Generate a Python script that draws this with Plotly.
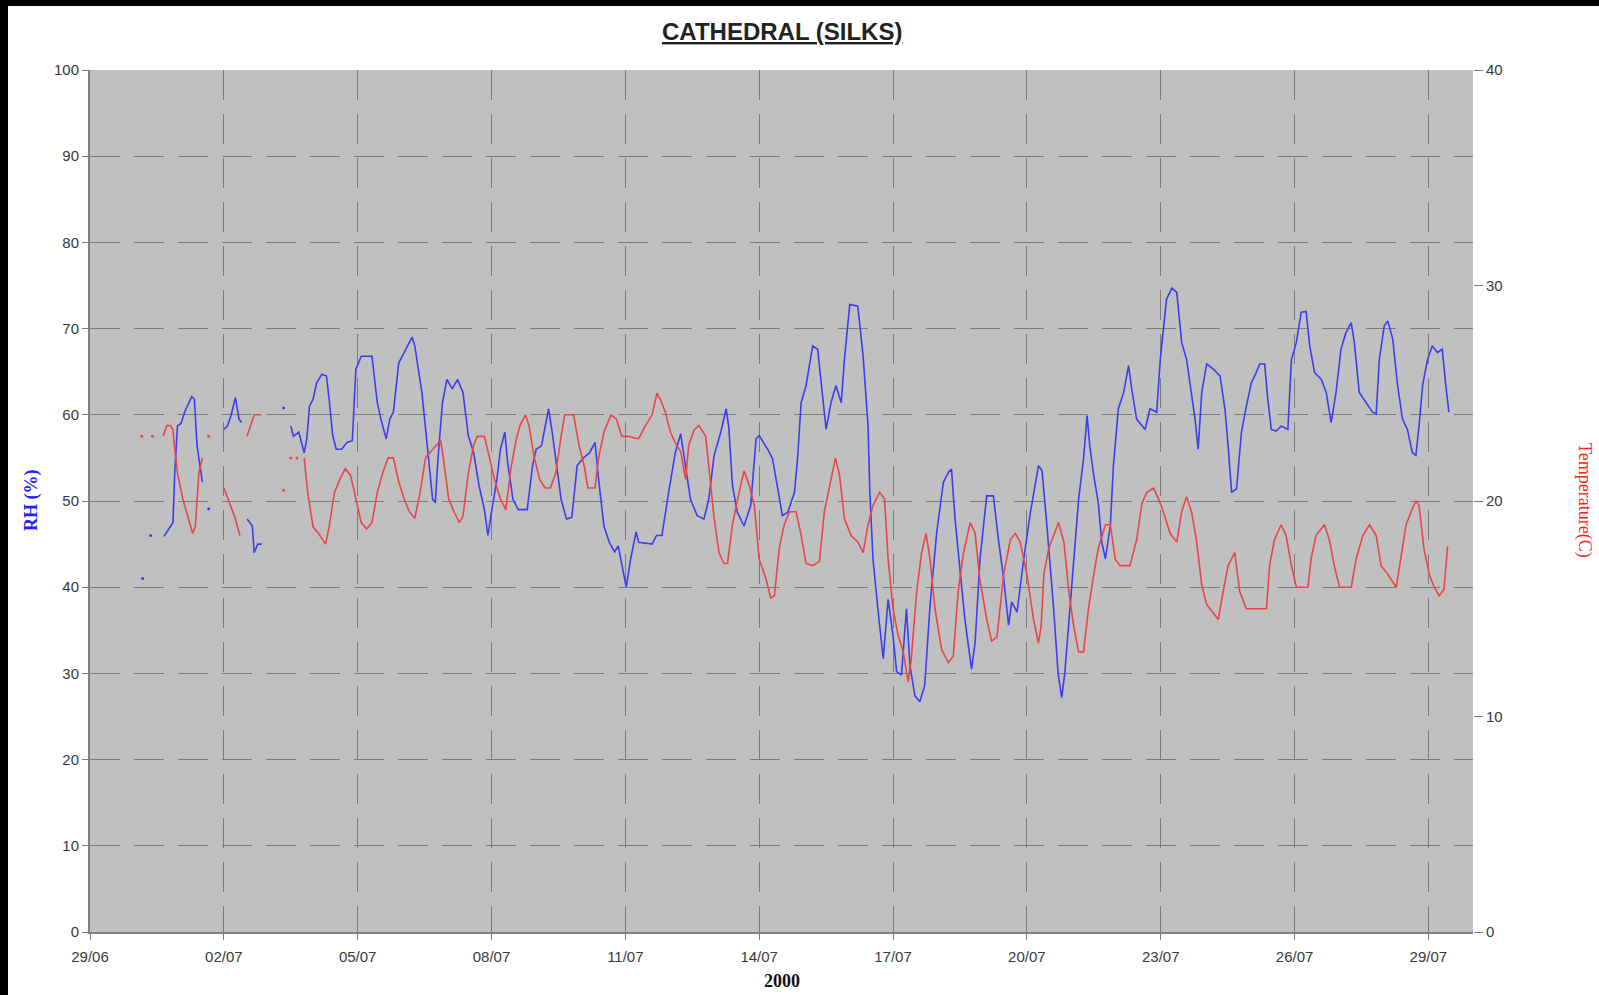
import pandas as pd
import plotly.graph_objects as go

START = "2000-06-29"

# ---- Relative humidity (%) : day offset from 29/06/2000 and value; None = gap
rh_day = [1.66, 1.8, 1.86, 1.9, 1.96, 2.04, 2.12, 2.28, 2.34, 2.4, 2.46, 2.52, None,
          3.0, 3.08, 3.16, 3.26, 3.34, 3.4, None,
          3.52, 3.64, 3.68, 3.76, 3.85, None,
          4.5, 4.56, 4.68, 4.8, 4.86, 4.92, 5.0, 5.08, 5.2, 5.3, 5.36, 5.44, 5.52, 5.64, 5.76, 5.88, 5.96,
          6.08, 6.32, 6.44, 6.52, 6.64, 6.72, 6.8, 6.92, 7.04, 7.22, 7.28, 7.44, 7.56, 7.68, 7.74, 7.8,
          7.9, 8.0, 8.12, 8.24, 8.36, 8.48, 8.6, 8.72, 8.84, 8.92, 9.0, 9.12, 9.2, 9.3, 9.36, 9.48, 9.6,
          9.8, 9.92, 10.0, 10.12, 10.28, 10.36, 10.44, 10.56, 10.68, 10.8, 10.92, 11.04, 11.2, 11.32,
          11.4, 11.52, 11.64, 11.76, 11.84, 11.92, 12.02, 12.12, 12.24, 12.3, 12.6, 12.7, 12.82, 12.97,
          13.12, 13.24, 13.35, 13.46, 13.61, 13.76, 13.87, 13.99, 14.14, 14.26, 14.32, 14.4, 14.51,
          14.66, 14.81, 14.93, 15.0, 15.19, 15.3, 15.37, 15.52, 15.64, 15.79, 15.86, 15.94, 16.05, 16.2,
          16.31, 16.39, 16.5, 16.61, 16.72, 16.84, 16.91, 17.03, 17.21, 17.33, 17.44, 17.48, 17.55,
          17.66, 17.78, 17.89, 18.0, 18.08, 18.19, 18.3, 18.38, 18.49, 18.6, 18.71, 18.83, 18.98, 19.13,
          19.24, 19.31, 19.39, 19.5, 19.61, 19.76, 19.84, 19.95, 20.1, 20.25, 20.36, 20.48, 20.59, 20.66,
          20.78, 20.93, 21.08, 21.26, 21.34, 21.45, 21.6, 21.7, 21.78, 21.85, 21.94, 22.05, 22.16, 22.27,
          22.35, 22.41, 22.5, 22.6, 22.68, 22.76, 22.87, 22.94, 23.05, 23.17, 23.28, 23.35, 23.46, 23.65,
          23.76, 23.91, 23.99, 24.13, 24.25, 24.36, 24.47, 24.58, 24.69, 24.77, 24.84, 24.92, 25.03,
          25.18, 25.33, 25.44, 25.51, 25.59, 25.7, 25.81, 25.92, 26.03, 26.14, 26.22, 26.33, 26.4, 26.48,
          26.59, 26.7, 26.85, 26.93, 27.04, 27.15, 27.26, 27.34, 27.45, 27.6, 27.71, 27.82, 27.93, 28.04,
          28.15, 28.27, 28.34, 28.45, 28.6, 28.75, 28.83, 28.9, 29.01, 29.09, 29.2, 29.31, 29.42, 29.53,
          29.64, 29.72, 29.79, 29.87, 29.98, 30.09, 30.2, 30.31, 30.39, 30.46]
rh_val = [45.9, 47.1, 47.5, 53.3, 58.7, 59, 60.3, 62.1, 61.8, 56.4, 54, 52.2, None,
          58.3, 58.7, 59.9, 62, 59.5, 59.1, None,
          47.9, 47.1, 44, 45, 45, None,
          58.7, 57.5, 58, 55.6, 57.2, 61, 61.8, 63.7, 64.7, 64.5, 61.8, 57.6, 56, 56, 56.8, 57, 65.3,
          66.8, 66.8, 61.4, 59.5, 57.2, 59.5, 60.3, 66, 67.2, 69, 68, 62.6, 56.4, 50.2, 49.8, 54.9,
          61.4, 64.1, 63, 64.1, 62.6, 57.6, 55.6, 51.8, 49, 46, 48.7, 52.5, 56, 58, 54.5, 50.2, 49,
          49, 54.1, 56, 56.4, 60.7, 58, 54.9, 50.2, 47.9, 48.1, 54.1, 54.9, 55.6, 56.8,
          52.5, 47.1, 45.2, 44.1, 44.8, 42.5, 40, 43.3, 46.4, 45.2, 45, 46, 46, 51,
          55.6, 57.8, 54.1, 50.2, 48.3, 47.9, 50.2, 55.3, 58, 60.7, 58.5, 51.8, 48.7,
          47.1, 49.5, 57.2, 57.6, 56, 54.9, 52.9, 48.3, 48.7, 51, 54.9, 61.4, 63.4, 68,
          67.6, 63.4, 58.3, 61.4, 63.4, 61.4, 66.4, 72.8, 72.6, 66.8, 58.7, 51, 43.3,
          37.5, 31.7, 38.6, 34.4, 30.2, 29.8, 37.5, 30.9, 27.4, 26.7, 28.6, 37.9, 46.4, 52.2,
          53.3, 53.7, 47.9, 42.5, 36.3, 30.5, 33.6, 43.3, 50.6, 50.6, 45.6, 41, 35.6, 38.3,
          37.1, 43.3, 48.7, 54.1, 53.5, 47.1, 37.5, 30, 27.2, 30, 35.6, 43.3, 50.2, 54.9,
          59.9, 56.4, 52.9, 49.8, 45.2, 43.3, 47.1, 54.1, 60.7, 62.6, 65.7, 63, 59.5, 58.3,
          60.7, 60.3, 66.4, 73.4, 74.7, 74.2, 68.4, 66.4, 62.6, 59.5, 56, 62.6, 65.9,
          65.3, 64.5, 60.7, 56.4, 51, 51.4, 58, 61, 63.7, 64.9, 65.9, 65.9, 61.8, 58.3,
          58.1, 58.7, 58.3, 66.4, 68.4, 71.9, 72, 68, 64.9, 64.1, 62.6, 59.1, 62.6, 67.6,
          69.5, 70.7, 68.4, 62.6, 61.4, 60.3, 60.1, 66.4, 70.3, 70.9, 68.8, 63.4, 59.5, 58.3,
          55.6, 55.3, 58.7, 63.4, 66.4, 68, 67.2, 67.6, 63.4, 60.3]
rh_dot_day = [1.18, 1.36, 2.66, 4.34]
rh_dot_val = [41, 46, 49.1, 60.8]

# ---- Temperature (C)
t_day = [1.64, 1.72, 1.8, 1.86, 1.9, 1.96, 2.08, 2.2, 2.3, 2.36, 2.44, 2.52, None,
         3.0, 3.12, 3.24, 3.36, None,
         3.52, 3.6, 3.68, 3.84, None,
         4.8, 4.88, 5.0, 5.12, 5.28, 5.36, 5.48, 5.6, 5.72, 5.84, 5.96, 6.08, 6.2, 6.32, 6.44, 6.56,
         6.68, 6.8, 6.92, 7.04, 7.16, 7.28, 7.4, 7.52, 7.64, 7.76, 7.86, 7.92, 8.04, 8.16, 8.28, 8.36,
         8.48, 8.6, 8.68, 8.84, 8.96, 9.08, 9.2, 9.32, 9.44, 9.56, 9.64, 9.76, 9.84, 9.96, 10.08, 10.2,
         10.32, 10.44, 10.56, 10.64, 10.84, 10.96, 11.08, 11.16, 11.32, 11.4, 11.52, 11.68, 11.8, 11.92,
         12.08, 12.24, 12.3, 12.45, 12.6, 12.71, 12.79, 12.9, 13.01, 13.12, 13.24, 13.35, 13.42, 13.54,
         13.65, 13.8, 13.87, 13.99, 14.1, 14.21, 14.29, 14.4, 14.55, 14.66, 14.78, 14.89, 15.0, 15.15,
         15.26, 15.34, 15.45, 15.56, 15.68, 15.83, 15.94, 16.05, 16.2, 16.35, 16.46, 16.58, 16.71, 16.8,
         16.91, 17.06, 17.21, 17.33, 17.44, 17.55, 17.7, 17.81, 17.89, 18.0, 18.11, 18.23, 18.34, 18.41,
         18.53, 18.64, 18.74, 18.83, 18.94, 19.09, 19.24, 19.35, 19.46, 19.58, 19.73, 19.84, 19.95, 20.1,
         20.21, 20.33, 20.48, 20.63, 20.74, 20.85, 21.0, 21.15, 21.26, 21.32, 21.38, 21.49, 21.71, 21.83,
         21.94, 22.05, 22.16, 22.27, 22.38, 22.5, 22.6, 22.76, 22.87, 22.98, 23.09, 23.31, 23.46, 23.58,
         23.69, 23.84, 23.95, 24.06, 24.21, 24.36, 24.47, 24.58, 24.69, 24.8, 24.92, 25.03, 25.18, 25.29,
         25.4, 25.51, 25.66, 25.77, 25.92, 26.14, 26.37, 26.44, 26.55, 26.7, 26.81, 26.93, 27.04, 27.3,
         27.37, 27.48, 27.67, 27.78, 27.89, 28.01, 28.27, 28.38, 28.53, 28.68, 28.83, 28.94, 29.09, 29.28,
         29.38, 29.5, 29.61, 29.72, 29.79, 29.9, 30.02, 30.13, 30.24, 30.35, 30.43]
t_val = [23.0, 23.5, 23.5, 23.3, 22.4, 21.3, 20.1, 19.2, 18.5, 18.8, 21.3, 22, None,
         20.6, 19.9, 19.3, 18.4, None,
         23, 23.5, 24, 24, None,
         22, 20.4, 18.8, 18.5, 18, 18.8, 20.4, 21, 21.5, 21.2, 20.1, 19, 18.7, 19, 20.4, 21.3,
         22, 22, 20.9, 20.1, 19.5, 19.2, 20.4, 22, 22.3, 22.6, 22.8, 22, 20.1, 19.5, 19, 19.3,
         21.3, 22.6, 23, 23, 22, 20.9, 20.1, 19.6, 21.6, 22.9, 23.5, 24, 23.5, 22, 21, 20.6,
         20.6, 21.3, 23, 24, 24, 22.6, 21.6, 20.6, 20.6, 22, 23.2, 24, 23.8, 23,
         23, 22.9, 22.9, 23.5, 24, 25, 24.7, 24.1, 23.2, 22.7, 22.3, 21, 22.6, 23.3,
         23.5, 23, 21.6, 19.2, 17.6, 17.1, 17.1, 18.9, 20.4, 21.4, 20.7, 19.8, 17.3, 16.4,
         15.5, 15.6, 17.8, 18.9, 19.5, 19.5, 18.4, 17.1, 17, 17.2, 19.5, 20.7, 22, 21.2,
         19.2, 18.4, 18.1, 17.6, 18.9, 19.8, 20.4, 20.1, 17.3, 15, 13.8, 13, 11.6, 12.7,
         15.8, 17.6, 18.5, 17.3, 15, 13.1, 12.5, 12.8, 15.8, 17.6, 19, 18.5, 16.3, 14.5,
         13.5, 13.7, 16.6, 18.2, 18.5, 18.1, 16.6, 14.5, 13.4, 14.2, 16.6, 17.8, 19, 18.1,
         15.8, 14.2, 13, 13, 15, 16.6, 17.8, 18.9, 18.9, 17.3, 17, 17, 18.2, 19.9,
         20.4, 20.6, 20.1, 19.5, 18.5, 18.1, 19.5, 20.2, 19.5, 18.2, 16.1, 15.2, 14.8, 14.5,
         15.8, 17, 17.6, 15.8, 15, 15, 15, 17, 18.2, 18.9, 18.4, 17, 16, 16,
         17.3, 18.4, 18.9, 18.2, 17, 16, 16, 17.3, 18.4, 18.9, 18.4, 17, 16.6, 16,
         17.3, 18.9, 19.5, 20, 19.8, 17.8, 16.6, 16, 15.6, 15.9, 17.9]
t_dot_day = [1.16, 1.4, 2.66, 4.34, 4.5, 4.64]
t_dot_val = [23, 23, 23, 20.5, 22, 22]

TITLE = "CATHEDRAL (SILKS)"
X_TITLE = "2000"
Y_TITLE = "RH (%)"
Y2_TITLE = "Temperature(C)"


def to_dates(days):
    base = pd.Timestamp(START)
    return [None if d is None else base + pd.Timedelta(days=d) for d in days]


BLUE = "#3d3df0"
RED = "#ea4646"
GRID = "#7c7c7c"

fig = go.Figure()
fig.add_trace(go.Scatter(x=to_dates(rh_day), y=rh_val, mode="lines",
                         line=dict(color=BLUE, width=1.6), connectgaps=False,
                         name="RH", yaxis="y"))
fig.add_trace(go.Scatter(x=to_dates(rh_dot_day), y=rh_dot_val, mode="markers",
                         marker=dict(color=BLUE, size=3), name="RH pts", yaxis="y"))
fig.add_trace(go.Scatter(x=to_dates(t_day), y=t_val, mode="lines",
                         line=dict(color=RED, width=1.6), connectgaps=False,
                         name="Temp", yaxis="y2"))
fig.add_trace(go.Scatter(x=to_dates(t_dot_day), y=t_dot_val, mode="markers",
                         marker=dict(color=RED, size=3), name="Temp pts", yaxis="y2"))

W, H = 1599, 995
L, R, T, B = 90, 126, 70, 63
pw, ph = W - L - R, H - T - B


def px(x):
    return (x - L) / pw


def py(y):
    return (H - B - y) / ph


tickfont = dict(family="Liberation Sans, Arial, sans-serif", size=15, color="#3a3a3a")

fig.update_layout(
    width=W, height=H, autosize=False,
    margin=dict(l=L, r=R, t=T, b=B, pad=0),
    paper_bgcolor="white", plot_bgcolor="#c0c0c0",
    showlegend=False,
    xaxis=dict(type="date", range=[START, "2000-07-30"], tick0=START,
               dtick=3 * 86400000, tickformat="%d/%m",
               showgrid=True, gridcolor=GRID, gridwidth=1, griddash="30px,14px",
               ticks="outside", ticklen=6, tickcolor=GRID, ticklabelstandoff=4,
               showline=True, linecolor="#808080", linewidth=2,
               tickfont=tickfont, zeroline=False),
    yaxis=dict(range=[0, 100], dtick=10, tick0=0,
               showgrid=True, gridcolor=GRID, gridwidth=1, griddash="30px,14px",
               ticks="outside", ticklen=6, tickcolor=GRID,
               showline=True, linecolor="#808080", linewidth=2,
               tickfont=tickfont, zeroline=False),
    yaxis2=dict(range=[0, 40], dtick=10, tick0=0, overlaying="y", side="right",
                showgrid=False, ticks="outside", ticklen=9, tickcolor=GRID,
                showline=False, tickfont=tickfont, zeroline=False),
    annotations=[
        dict(text="<b><u>" + TITLE + "</u></b>", x=0.5, y=py(31), xref="paper", yref="paper",
             showarrow=False, xanchor="center", yanchor="middle",
             font=dict(family="Liberation Sans, Arial, sans-serif", size=24, color="#222")),
        dict(text="<b>" + X_TITLE + "</b>", x=0.5, y=py(981), xref="paper", yref="paper",
             showarrow=False, xanchor="center", yanchor="middle",
             font=dict(family="Liberation Serif, Times New Roman, serif", size=18, color="#111")),
        dict(text="<b>" + Y_TITLE + "</b>", x=px(31), y=py(500), xref="paper", yref="paper",
             showarrow=False, xanchor="center", yanchor="middle", textangle=-90,
             font=dict(family="Liberation Serif, Times New Roman, serif", size=18, color="#2020ff")),
        dict(text=Y2_TITLE, x=px(1585), y=py(500), xref="paper", yref="paper",
             showarrow=False, xanchor="center", yanchor="middle", textangle=90,
             font=dict(family="Liberation Serif, Times New Roman, serif", size=18, color="#ff2020")),
    ],
    shapes=[
        dict(type="rect", xref="paper", yref="paper", x0=px(0), x1=px(8), y0=py(H), y1=py(0),
             fillcolor="black", line=dict(width=0), layer="above"),
        dict(type="rect", xref="paper", yref="paper", x0=px(0), x1=px(W), y0=py(6), y1=py(0),
             fillcolor="black", line=dict(width=0), layer="above"),
    ],
)

fig.write_html("out.html", config={"displayModeBar": False},
               post_script="document.body.style.margin='0px';document.body.style.overflow='hidden';")
